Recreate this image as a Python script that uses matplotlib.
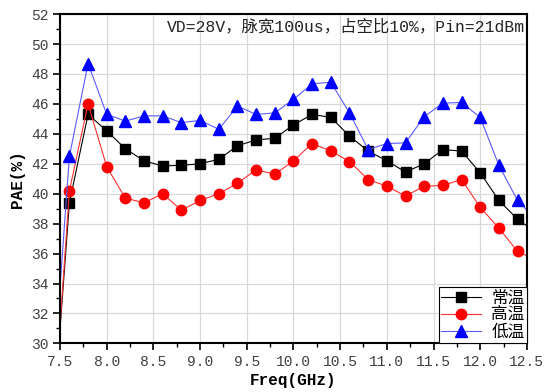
import matplotlib
matplotlib.use("Agg")
import matplotlib.pyplot as plt
from matplotlib.ticker import MultipleLocator, FormatStrFormatter

plt.rcParams['font.family'] = ['Liberation Mono', 'Noto Sans CJK SC', 'DejaVu Sans']

freq = [7.5, 7.6, 7.8, 8.0, 8.2, 8.4, 8.6, 8.8, 9.0, 9.2, 9.4, 9.6, 9.8, 10.0,
        10.2, 10.4, 10.6, 10.8, 11.0, 11.2, 11.4, 11.6, 11.8, 12.0, 12.2, 12.4, 12.5]

pae_room = [31.0, 39.4, 45.3, 44.2, 43.0, 42.2, 41.85, 41.9, 42.0, 42.3, 43.2, 43.6, 43.7, 44.6,
            45.3, 45.1, 43.85, 42.85, 42.2, 41.45, 42.0, 42.95, 42.85, 41.4, 39.55, 38.3, 37.85]
pae_high = [31.2, 40.2, 46.0, 41.8, 39.7, 39.4, 40.0, 38.9, 39.55, 40.0, 40.7, 41.6, 41.3, 42.2,
            43.35, 42.85, 42.15, 40.95, 40.5, 39.85, 40.5, 40.55, 40.95, 39.1, 37.7, 36.15, 35.85]
pae_low = [33.8, 42.5, 48.7, 45.3, 44.85, 45.2, 45.2, 44.75, 44.9, 44.3, 45.85, 45.3, 45.4, 46.3,
           47.35, 47.45, 45.4, 42.95, 43.35, 43.4, 45.15, 46.05, 46.1, 45.1, 41.9, 39.55, 38.9]

labels = ['常温', '高温', '低温']
annotation = 'VD=28V，脉宽100us，占空比10%，Pin=21dBm'
xlabel = 'Freq(GHz)'
ylabel = 'PAE(%)'

fig = plt.figure(figsize=(5.46, 3.92), dpi=100)
ax = fig.add_axes([0.110, 0.124, 0.855, 0.840])

mk_idx = list(range(1, len(freq) - 1))
ax.plot(freq, pae_room, color='black', lw=0.8, marker='s', ms=6.5,
        markevery=mk_idx, label=labels[0])
ax.plot(freq, pae_high, color='#ff3030', lw=0.8, marker='o', ms=7.5,
        mfc='#ff0000', mec='#ff0000', markevery=mk_idx, label=labels[1])
ax.plot(freq, pae_low, color='#5a5aff', lw=0.8, marker='^', ms=8,
        mfc='#0000ff', mec='#0000ff', markevery=mk_idx, label=labels[2])

ax.set_xlim(7.5, 12.5)
ax.set_ylim(30, 52)
ax.xaxis.set_major_locator(MultipleLocator(0.5))
ax.xaxis.set_minor_locator(MultipleLocator(0.25))
ax.yaxis.set_major_locator(MultipleLocator(2))
ax.yaxis.set_minor_locator(MultipleLocator(1))
ax.xaxis.set_major_formatter(FormatStrFormatter('%.1f'))
ax.grid(True, which='major', color='#d8d8d8', lw=0.9)
ax.set_axisbelow(True)

ax.tick_params(which='major', direction='out', length=5, width=1.2,
               labelsize=10.5, labelcolor='#404040', top=False, right=False)
ax.tick_params(which='minor', direction='out', length=3, width=1.0,
               top=False, right=False)
for s in ax.spines.values():
    s.set_linewidth(1.5)
    s.set_color('black')

ax.set_xlabel(xlabel, fontsize=11.5, fontweight='bold', labelpad=3)
ax.set_ylabel(ylabel, fontsize=11.5, fontweight='bold', labelpad=4)

ax.text(0.995, 0.985, annotation, transform=ax.transAxes, ha='right', va='top',
        fontsize=11.8, color='#222222')

leg = ax.legend(loc='lower right', frameon=True, fancybox=False,
                handlelength=2.4, borderpad=0.15, labelspacing=0.0,
                handletextpad=0.6, borderaxespad=0.0, edgecolor='black',
                prop={'family': ['Noto Sans CJK SC'], 'size': 12})
leg.get_frame().set_linewidth(0.8)
leg.get_frame().set_alpha(1)

fig.savefig('out.png', dpi=100)
